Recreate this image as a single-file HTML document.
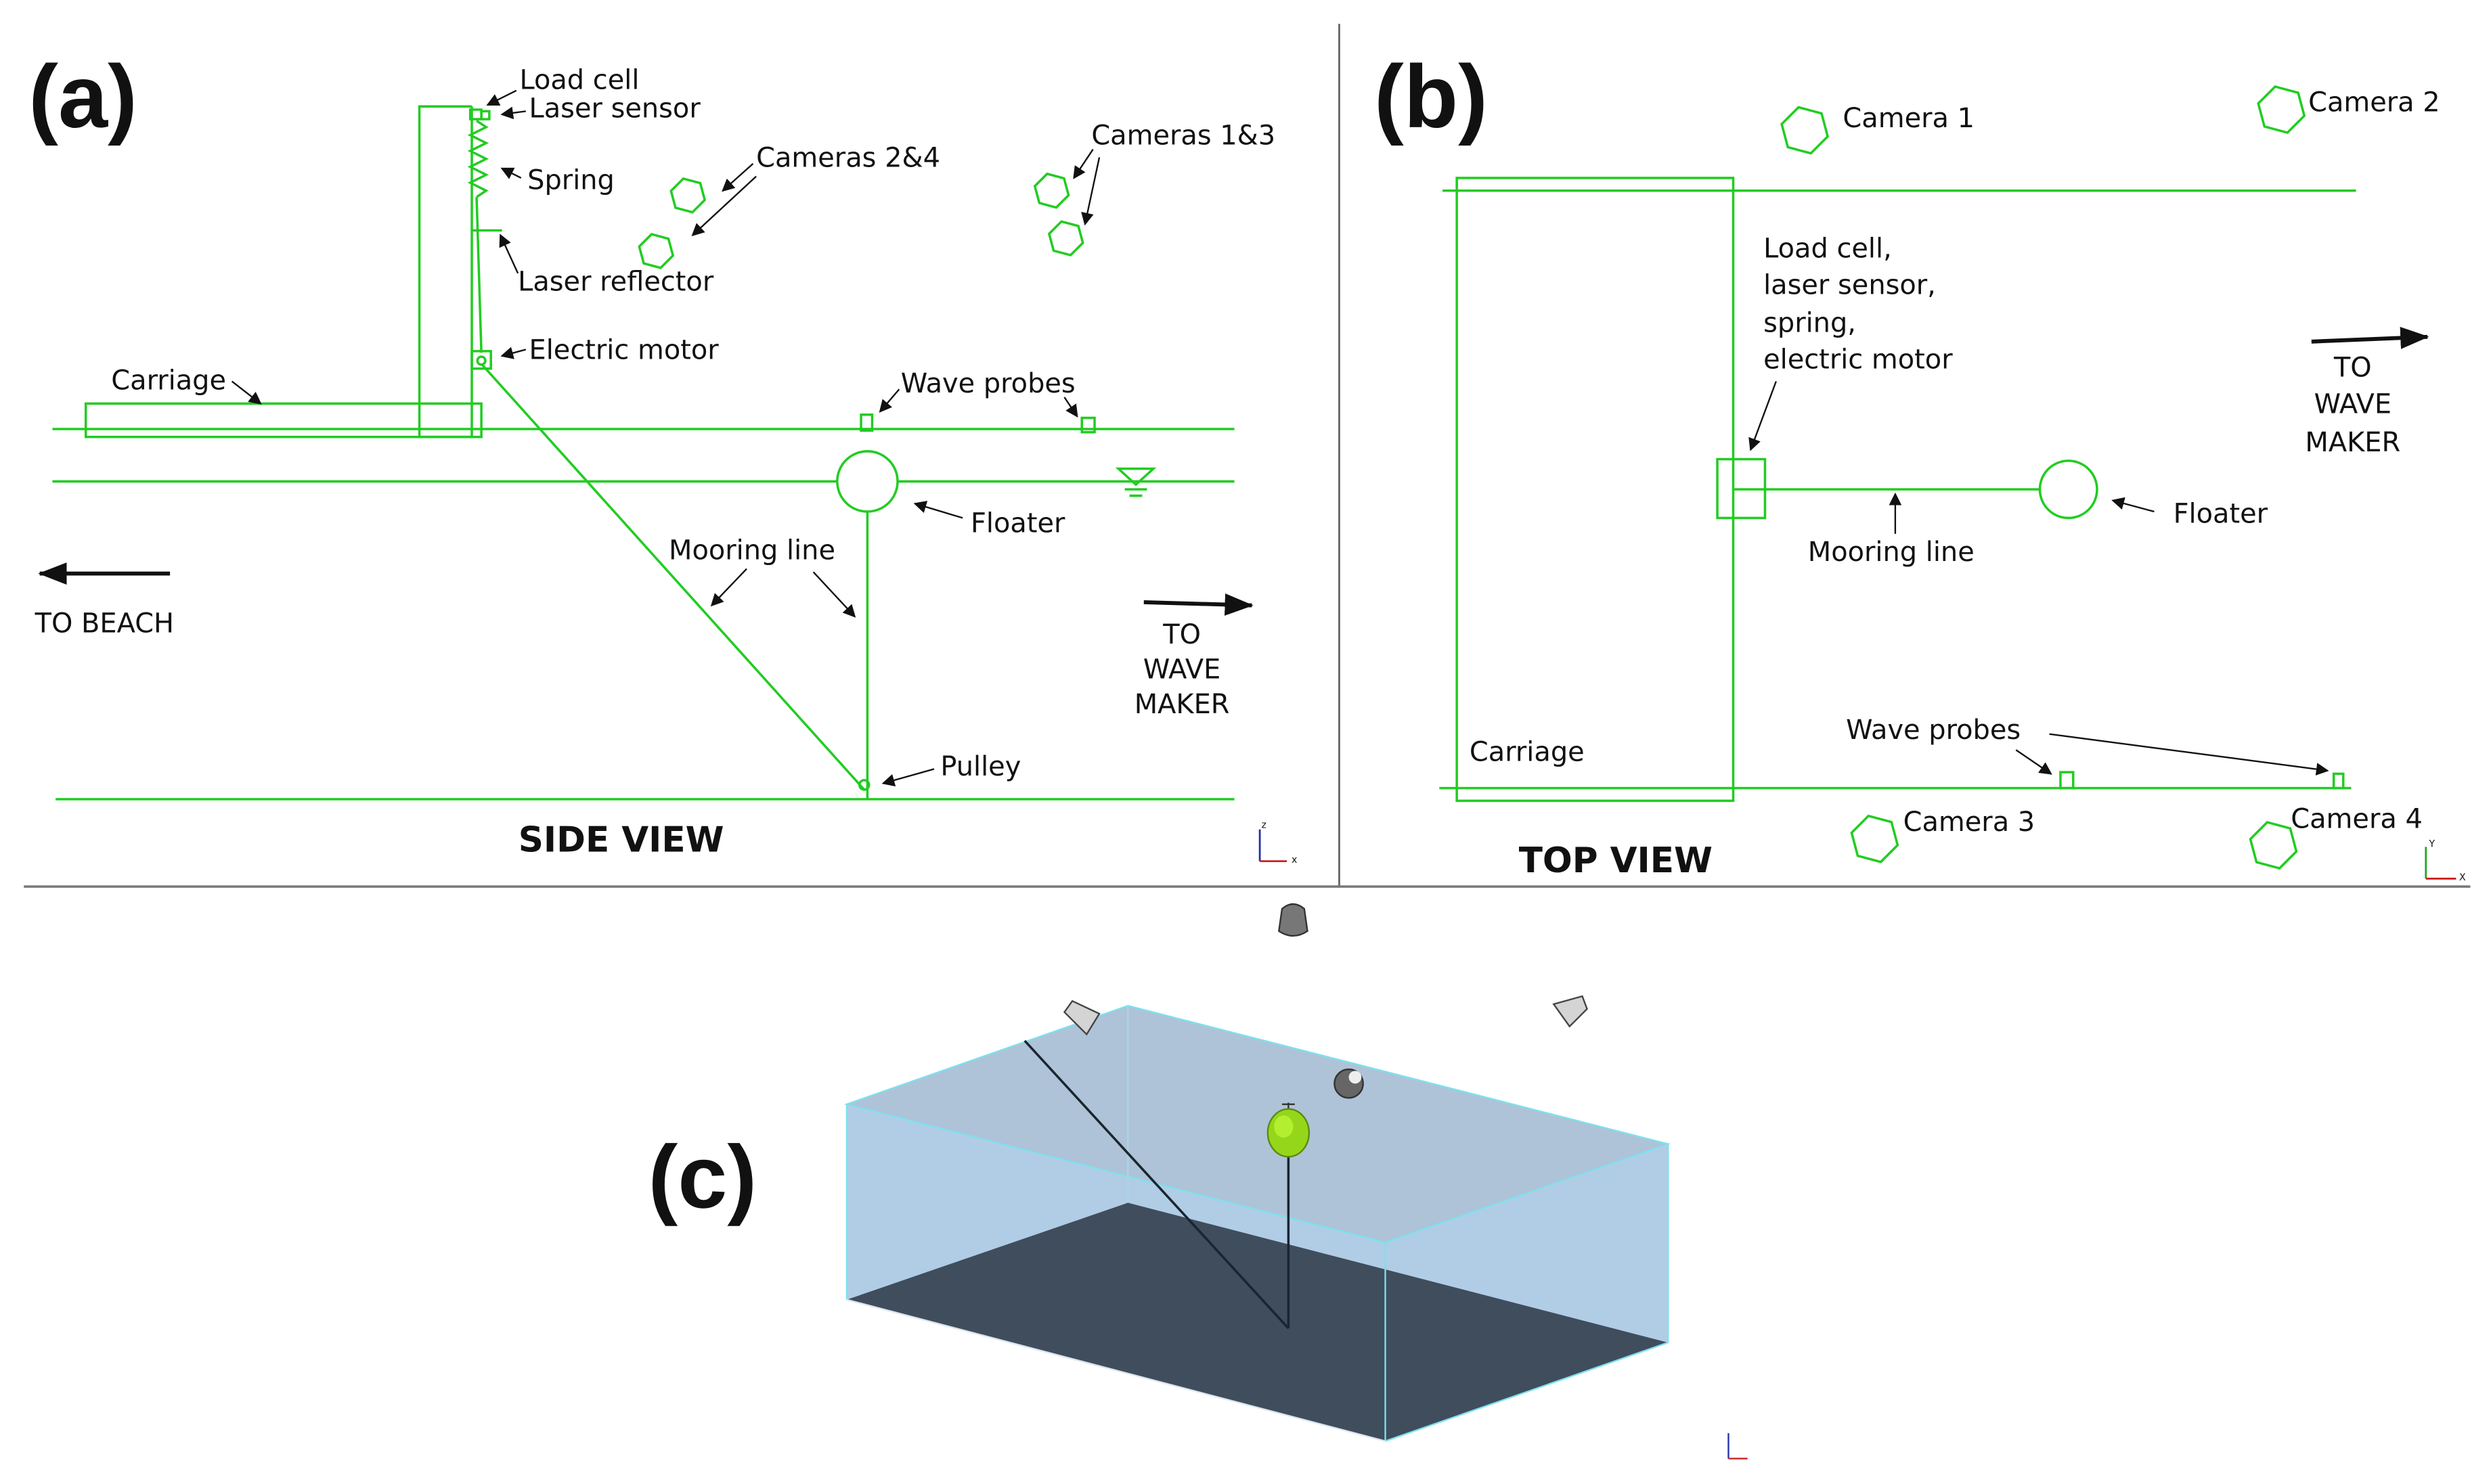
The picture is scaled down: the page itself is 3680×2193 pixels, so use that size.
<!DOCTYPE html>
<html><head><meta charset="utf-8"><style>
html,body{margin:0;padding:0;background:#fff;}
svg{display:block;}
text{font-family:"DejaVu Sans","Liberation Sans",sans-serif;fill:#111;}
text.h{font-family:"Liberation Sans","DejaVu Sans",sans-serif;font-weight:bold;font-size:56px;}
</style></head><body>
<svg width="3680" height="2193" viewBox="0 0 1568 934" preserveAspectRatio="none" xmlns="http://www.w3.org/2000/svg">
<defs>
<marker id="ah" markerWidth="8" markerHeight="8" refX="7" refY="4" orient="auto" markerUnits="userSpaceOnUse"><path d="M0,0 L8,4 L0,8 Z" fill="#111"/></marker>
<marker id="bh" markerWidth="18" markerHeight="14" refX="17" refY="7" orient="auto" markerUnits="userSpaceOnUse"><path d="M0,0 L18,7 L0,14 Z" fill="#111"/></marker>
<polygon id="hx" transform="rotate(15)" points="11,0 5.5,-9.5 -5.5,-9.5 -11,0 -5.5,9.5 5.5,9.5" fill="none" stroke="#22cc22" stroke-width="1.5"/>
<polygon id="hxb" transform="rotate(15)" points="15,0 7.5,-13 -7.5,-13 -15,0 -7.5,13 7.5,13" fill="none" stroke="#22cc22" stroke-width="1.5"/>
</defs>
<rect width="1568" height="934" fill="#fff"/>
<line x1="843" y1="15" x2="843" y2="558" stroke="#666" stroke-width="1.2"/>
<line x1="15" y1="558" x2="1555" y2="558" stroke="#777" stroke-width="1.5"/>

<!-- (a) -->
<text class="h" x="18" y="80">(a)</text>
<g stroke="#22cc22" stroke-width="1.5" fill="none">
<line x1="33" y1="270" x2="777" y2="270"/>
<line x1="33" y1="303" x2="527" y2="303"/>
<line x1="565" y1="303" x2="777" y2="303"/>
<line x1="35" y1="503" x2="777" y2="503"/>
<rect x="54" y="254" width="249" height="21"/>
<polyline points="297,275 264,275 264,67 297,67"/>
<line x1="297" y1="67" x2="297" y2="275"/>
<rect x="296" y="69" width="7" height="6"/>
<rect x="303" y="70" width="5" height="5"/>
<polyline points="300,76 306,80 296,85 306,90 296,95 306,100 296,105 306,110 296,115 306,120 300,124"/>
<line x1="300" y1="124" x2="303" y2="222"/>
<line x1="297" y1="145" x2="316" y2="145"/>
<rect x="297" y="221" width="12" height="11"/>
<circle cx="303" cy="227" r="2.5"/>
<line x1="303" y1="229" x2="544" y2="497"/>
<circle cx="546" cy="303" r="19"/>
<line x1="546" y1="322" x2="546" y2="503"/>
<circle cx="544" cy="494" r="3"/>
<rect x="542" y="261" width="7" height="10"/>
<rect x="681" y="263" width="8" height="9"/>
<polygon points="704,295 726,295 715,305"/>
<line x1="708" y1="308" x2="722" y2="308"/>
<line x1="711" y1="312" x2="719" y2="312"/>
</g>
<use href="#hx" x="433" y="123"/>
<use href="#hx" x="413" y="158"/>
<use href="#hx" x="662" y="120"/>
<use href="#hx" x="671" y="150"/>
<g font-size="17">
<text x="327" y="56">Load cell</text>
<text x="333" y="74">Laser sensor</text>
<text x="332" y="119">Spring</text>
<text x="326" y="183">Laser reflector</text>
<text x="333" y="226">Electric motor</text>
<text x="70" y="245">Carriage</text>
<text x="476" y="105">Cameras 2&amp;4</text>
<text x="687" y="91">Cameras 1&amp;3</text>
<text x="567" y="247">Wave probes</text>
<text x="611" y="335">Floater</text>
<text x="421" y="352">Mooring line</text>
<text x="592" y="488">Pulley</text>
<text x="22" y="398">TO BEACH</text>
<text x="744" y="405" text-anchor="middle">TO</text>
<text x="744" y="427" text-anchor="middle">WAVE</text>
<text x="744" y="449" text-anchor="middle">MAKER</text>
</g>
<text x="391" y="536" font-size="22" font-weight="bold" text-anchor="middle">SIDE VIEW</text>
<g stroke="#111" stroke-width="1" marker-end="url(#ah)">
<line x1="325" y1="57" x2="307" y2="66"/>
<line x1="331" y1="70" x2="316" y2="72"/>
<line x1="328" y1="112" x2="316" y2="106"/>
<line x1="326" y1="172" x2="315" y2="148"/>
<line x1="331" y1="220" x2="316" y2="224"/>
<line x1="146" y1="240" x2="164" y2="254"/>
<line x1="474" y1="103" x2="455" y2="120"/>
<line x1="476" y1="111" x2="436" y2="148"/>
<line x1="688" y1="94" x2="676" y2="112"/>
<line x1="692" y1="99" x2="683" y2="141"/>
<line x1="566" y1="245" x2="554" y2="259"/>
<line x1="670" y1="250" x2="678" y2="262"/>
<line x1="606" y1="326" x2="576" y2="317"/>
<line x1="470" y1="358" x2="448" y2="381"/>
<line x1="512" y1="360" x2="538" y2="388"/>
<line x1="588" y1="484" x2="556" y2="493"/>
</g>
<g stroke="#111" stroke-width="2.5" marker-end="url(#bh)">
<line x1="107" y1="361" x2="25" y2="361"/>
<line x1="720" y1="379" x2="788" y2="381"/>
</g>
<g stroke-width="1.2"><line x1="793" y1="542" x2="793" y2="522" stroke="#2233aa"/><line x1="793" y1="542" x2="810" y2="542" stroke="#cc2222"/></g>
<text x="794" y="521" font-size="6">z</text><text x="813" y="543" font-size="6">x</text>

<!-- (b) -->
<text class="h" x="865" y="80">(b)</text>
<g stroke="#22cc22" stroke-width="1.5" fill="none">
<line x1="908" y1="120" x2="1483" y2="120"/>
<line x1="906" y1="496" x2="1480" y2="496"/>
<rect x="917" y="112" width="174" height="392"/>
<rect x="1081" y="289" width="30" height="37"/>
<line x1="1091" y1="308" x2="1284" y2="308"/>
<circle cx="1302" cy="308" r="18"/>
<rect x="1297" y="486" width="8" height="10"/>
<rect x="1469" y="487" width="6" height="9"/>
</g>
<use href="#hxb" x="1136" y="82"/>
<use href="#hxb" x="1436" y="69"/>
<use href="#hxb" x="1180" y="528"/>
<use href="#hxb" x="1431" y="532"/>
<g font-size="17">
<text x="1160" y="80">Camera 1</text>
<text x="1453" y="70">Camera 2</text>
<text x="1198" y="523">Camera 3</text>
<text x="1442" y="521">Camera 4</text>
<text x="1110" y="162">Load cell,</text>
<text x="1110" y="185">laser sensor,</text>
<text x="1110" y="209">spring,</text>
<text x="1110" y="232">electric motor</text>
<text x="1138" y="353">Mooring line</text>
<text x="1368" y="329">Floater</text>
<text x="1162" y="465">Wave probes</text>
<text x="925" y="479">Carriage</text>
<text x="1481" y="237" text-anchor="middle">TO</text>
<text x="1481" y="260" text-anchor="middle">WAVE</text>
<text x="1481" y="284" text-anchor="middle">MAKER</text>
</g>
<text x="1017" y="549" font-size="22" font-weight="bold" text-anchor="middle">TOP VIEW</text>
<g stroke="#111" stroke-width="1" marker-end="url(#ah)">
<line x1="1118" y1="240" x2="1102" y2="283"/>
<line x1="1193" y1="336" x2="1193" y2="311"/>
<line x1="1356" y1="322" x2="1330" y2="315"/>
<line x1="1269" y1="472" x2="1291" y2="487"/>
<line x1="1290" y1="462" x2="1465" y2="485"/>
</g>
<g stroke="#111" stroke-width="2.5" marker-end="url(#bh)">
<line x1="1455" y1="215" x2="1528" y2="212"/>
</g>
<g stroke-width="1.2"><line x1="1527" y1="553" x2="1527" y2="533" stroke="#22aa22"/><line x1="1527" y1="553" x2="1546" y2="553" stroke="#cc2222"/></g>
<text x="1529" y="533" font-size="6">Y</text><text x="1548" y="554" font-size="6">X</text>

<!-- (c) -->
<text class="h" x="408" y="760">(c)</text>
<polygon points="533,695 710,633 1050,720 1050,845 872,907 533,818" fill="#b1cde6"/>
<polygon points="533,818 710,757 1050,845 872,907" fill="#3f4d5d"/>
<polygon points="533,695 710,633 1050,720 872,782" fill="#aec3d7"/>
<g stroke="#7fe0ee" stroke-width="1" fill="none">
<polygon points="533,695 710,633 1050,720 872,782"/>
<line x1="533" y1="695" x2="533" y2="818"/>
<line x1="872" y1="782" x2="872" y2="907"/>
<line x1="1050" y1="720" x2="1050" y2="845"/>
<line x1="710" y1="633" x2="710" y2="757" stroke="#a8d6e6"/>
<line x1="872" y1="907" x2="1050" y2="845"/>
</g>
<line x1="533" y1="818" x2="872" y2="907" stroke="#dce6ef" stroke-width="1"/>
<line x1="645" y1="655" x2="811" y2="836" stroke="#1a2530" stroke-width="1.5"/>
<line x1="811" y1="722" x2="811" y2="836" stroke="#1a2530" stroke-width="1.5"/>
<line x1="811" y1="694" x2="811" y2="700" stroke="#333" stroke-width="1"/>
<line x1="807" y1="695" x2="815" y2="695" stroke="#333" stroke-width="1"/>
<ellipse cx="811" cy="713" rx="13" ry="15" fill="#96d61a" stroke="#5a8a10" stroke-width="1"/>
<ellipse cx="808" cy="709" rx="6" ry="7" fill="#b4ee30"/>
<path d="M807,572 Q814,566 821,572 L823,586 Q814,592 805,586 Z" fill="#777" stroke="#333" stroke-width="1"/>
<path d="M670,637 L675,630 L692,638 L684,651 Z" fill="#d4d4d4" stroke="#444" stroke-width="1"/>
<path d="M978,632 L996,627 L999,635 L988,646 Z" fill="#d4d4d4" stroke="#444" stroke-width="1"/>
<ellipse cx="849" cy="682" rx="9" ry="9" fill="#666" stroke="#333" stroke-width="1"/>
<circle cx="853" cy="678" r="4" fill="#eee"/>
<g stroke-width="1"><line x1="1088" y1="918" x2="1088" y2="902" stroke="#2233aa"/><line x1="1088" y1="918" x2="1100" y2="918" stroke="#cc2222"/></g>
</svg>
</body></html>
